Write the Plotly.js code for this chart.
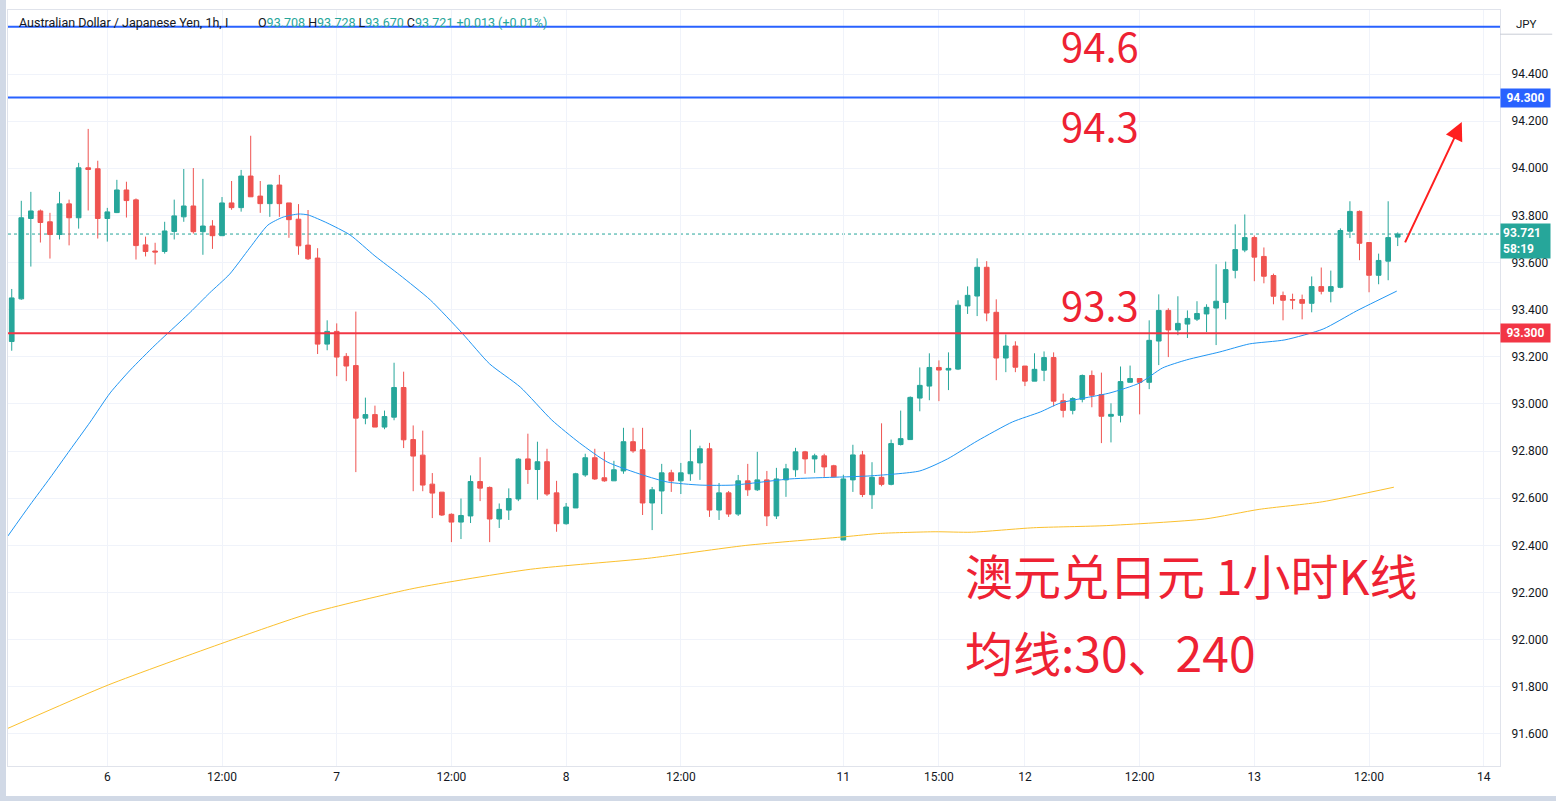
<!DOCTYPE html>
<html>
<head>
<meta charset="utf-8">
<script src="https://cdn.plot.ly/plotly-3.0.1.min.js"></script>
<style>
  html, body { margin: 0; padding: 0; background: #ffffff; overflow: hidden; }
  #wrap { position: relative; width: 1556px; height: 801px; }
  #chart { position: absolute; left: 0; top: 0; width: 1556px; height: 801px; }
  #leftStrip { position: absolute; left: 0; top: 0; width: 6px; height: 801px; background: #d1d9e6; z-index: 5; }
  #bottomStrip { position: absolute; left: 0; top: 796px; width: 1556px; height: 5px; background: #d1d9e6; z-index: 5; }
</style>
</head>
<body>
<div id="wrap">
  <div id="chart"></div>
  <div id="leftStrip"></div>
  <div id="bottomStrip"></div>
</div>
<script>
// ---- Candle data (AUD/JPY, 1h) ----
const openP = [
  93.265, 93.446, 93.787, 93.819, 93.773, 93.719, 93.849, 93.790, 94.002, 93.998,
  93.787, 93.812, 93.908, 93.866, 93.675, 93.649, 93.647, 93.732, 93.794, 93.840,
  93.731, 93.755, 93.714, 93.853, 93.833, 93.967, 93.882, 93.850, 93.929, 93.853,
  93.784, 93.674, 93.619, 93.254, 93.308, 93.202, 93.163, 92.940, 92.955, 92.902,
  92.944, 93.070, 92.849, 92.783, 92.660, 92.626, 92.532, 92.499, 92.525, 92.671,
  92.646, 92.512, 92.550, 92.597, 92.767, 92.722, 92.755, 92.623, 92.492, 92.559,
  92.699, 92.772, 92.687, 92.674, 92.716, 92.840, 92.806, 92.580, 92.631, 92.708,
  92.674, 92.704, 92.750, 92.810, 92.550, 92.623, 92.533, 92.674, 92.636, 92.678,
  92.525, 92.678, 92.721, 92.797, 92.767, 92.780, 92.738, 92.423, 92.678, 92.784,
  92.615, 92.689, 92.659, 92.828, 92.849, 93.025, 93.076, 93.155, 93.144, 93.148,
  93.416, 93.458, 93.580, 93.389, 93.195, 93.246, 93.161, 93.097, 93.143, 93.197,
  93.014, 92.973, 93.020, 93.121, 93.040, 92.948, 92.952, 93.092, 93.108, 93.092,
  93.267, 93.397, 93.314, 93.339, 93.360, 93.382, 93.407, 93.431, 93.567, 93.653,
  93.706, 93.626, 93.545, 93.460, 93.443, 93.443, 93.427, 93.498, 93.478, 93.495,
  93.733, 93.817, 93.685, 93.546, 93.606, 93.708
];
const highP = [
  93.488, 93.862, 93.900, 93.825, 93.811, 93.900, 93.867, 94.023, 94.167, 94.032,
  93.832, 93.951, 93.943, 93.872, 93.710, 93.684, 93.773, 93.867, 93.997, 94.001,
  93.955, 93.780, 93.878, 93.946, 93.993, 94.138, 93.946, 93.929, 93.972, 93.853,
  93.848, 93.823, 93.661, 93.355, 93.342, 93.216, 93.392, 93.027, 92.993, 92.972,
  93.175, 93.137, 92.909, 92.887, 92.707, 92.626, 92.536, 92.599, 92.697, 92.774,
  92.650, 92.578, 92.642, 92.770, 92.874, 92.840, 92.810, 92.674, 92.580, 92.708,
  92.789, 92.810, 92.797, 92.759, 92.899, 92.899, 92.899, 92.648, 92.746, 92.721,
  92.750, 92.891, 92.823, 92.835, 92.665, 92.631, 92.699, 92.746, 92.797, 92.716,
  92.729, 92.746, 92.814, 92.801, 92.789, 92.789, 92.742, 92.700, 92.827, 92.801,
  92.753, 92.918, 92.849, 92.972, 93.032, 93.155, 93.215, 93.185, 93.219, 93.440,
  93.499, 93.618, 93.606, 93.444, 93.295, 93.266, 93.161, 93.215, 93.223, 93.219,
  93.044, 93.029, 93.125, 93.142, 93.133, 93.003, 93.159, 93.163, 93.108, 93.355,
  93.465, 93.406, 93.457, 93.397, 93.436, 93.423, 93.593, 93.604, 93.762, 93.804,
  93.715, 93.664, 93.553, 93.477, 93.468, 93.464, 93.541, 93.579, 93.566, 93.745,
  93.860, 93.821, 93.685, 93.638, 93.860, 93.728
];
const lowP = [
  93.226, 93.442, 93.583, 93.685, 93.617, 93.698, 93.673, 93.744, 93.821, 93.702,
  93.689, 93.810, 93.791, 93.613, 93.626, 93.592, 93.638, 93.698, 93.773, 93.723,
  93.633, 93.658, 93.714, 93.824, 93.816, 93.879, 93.811, 93.794, 93.794, 93.705,
  93.633, 93.611, 93.212, 93.228, 93.118, 93.097, 92.711, 92.914, 92.902, 92.893,
  92.931, 92.813, 92.630, 92.630, 92.516, 92.525, 92.414, 92.427, 92.495, 92.588,
  92.414, 92.474, 92.508, 92.588, 92.661, 92.594, 92.610, 92.458, 92.488, 92.559,
  92.691, 92.678, 92.670, 92.674, 92.704, 92.793, 92.529, 92.465, 92.533, 92.627,
  92.618, 92.674, 92.678, 92.521, 92.508, 92.521, 92.525, 92.610, 92.631, 92.482,
  92.512, 92.606, 92.691, 92.704, 92.708, 92.691, 92.691, 92.423, 92.627, 92.605,
  92.555, 92.651, 92.655, 92.824, 92.849, 92.969, 93.016, 93.012, 93.059, 93.144,
  93.382, 93.373, 93.351, 93.101, 93.135, 93.135, 93.076, 93.097, 93.097, 92.990,
  92.943, 92.956, 93.007, 92.986, 92.834, 92.837, 92.922, 93.092, 92.956, 93.063,
  93.165, 93.199, 93.292, 93.280, 93.352, 93.305, 93.250, 93.359, 93.533, 93.644,
  93.521, 93.512, 93.423, 93.355, 93.402, 93.359, 93.389, 93.465, 93.431, 93.491,
  93.704, 93.610, 93.474, 93.508, 93.525, 93.670
];
const closeP = [
  93.450, 93.790, 93.819, 93.770, 93.719, 93.849, 93.790, 94.002, 93.995, 93.787,
  93.815, 93.908, 93.863, 93.672, 93.647, 93.645, 93.734, 93.798, 93.840, 93.731,
  93.755, 93.714, 93.853, 93.833, 93.967, 93.879, 93.850, 93.929, 93.850, 93.782,
  93.671, 93.616, 93.254, 93.308, 93.199, 93.161, 92.940, 92.955, 92.902, 92.947,
  93.070, 92.848, 92.779, 92.656, 92.622, 92.529, 92.499, 92.527, 92.671, 92.643,
  92.512, 92.553, 92.599, 92.766, 92.722, 92.755, 92.618, 92.492, 92.563, 92.704,
  92.772, 92.682, 92.674, 92.721, 92.840, 92.801, 92.580, 92.636, 92.708, 92.674,
  92.708, 92.755, 92.810, 92.550, 92.623, 92.533, 92.674, 92.636, 92.678, 92.525,
  92.682, 92.725, 92.797, 92.767, 92.780, 92.733, 92.691, 92.682, 92.784, 92.616,
  92.689, 92.659, 92.832, 92.853, 93.028, 93.079, 93.155, 93.144, 93.151, 93.419,
  93.461, 93.580, 93.386, 93.195, 93.246, 93.156, 93.097, 93.147, 93.197, 93.012,
  92.973, 93.023, 93.121, 93.037, 92.948, 92.956, 93.095, 93.108, 93.092, 93.270,
  93.397, 93.314, 93.342, 93.363, 93.384, 93.410, 93.436, 93.570, 93.655, 93.706,
  93.623, 93.542, 93.457, 93.440, 93.441, 93.427, 93.498, 93.478, 93.498, 93.736,
  93.817, 93.682, 93.546, 93.609, 93.706, 93.721
];

// ---- Moving averages (bar position, price) ----
const ma30Bar = [-0.4, 1.9, 4.0, 6.1, 8.2, 10.3, 12.4, 15.0, 17.6, 18.7, 20.7, 22.8, 24.9, 26.8, 28.4, 30.0, 31.0, 33.0, 35.4, 38.0, 40.6, 43.8, 47.2, 50.0, 53.2, 56.5, 59.4, 62.3, 66.0, 68.6, 72.0, 75.5, 81.4, 86.6, 89.8, 95.0, 97.9, 101.0, 104.7, 107.6, 109.7, 114.9, 118.0, 120.4, 122.9, 126.4, 129.5, 133.2, 137.2, 140.7, 144.9];
const ma30Val = [92.440, 92.571, 92.686, 92.805, 92.923, 93.047, 93.144, 93.250, 93.348, 93.390, 93.471, 93.551, 93.662, 93.759, 93.793, 93.806, 93.802, 93.768, 93.717, 93.628, 93.547, 93.441, 93.297, 93.170, 93.072, 92.932, 92.835, 92.754, 92.699, 92.669, 92.656, 92.656, 92.682, 92.690, 92.695, 92.716, 92.767, 92.843, 92.924, 92.966, 93.004, 93.047, 93.089, 93.153, 93.187, 93.221, 93.255, 93.272, 93.318, 93.395, 93.479];
const ma240Bar = [-0.4, 10.1, 22.3, 31.2, 42.1, 54.3, 66.5, 76.8, 87.2, 90.9, 96.6, 100.4, 106.9, 114.5, 124.8, 130.5, 137.1, 144.6];
const ma240Val = [91.624, 91.808, 91.989, 92.112, 92.218, 92.299, 92.345, 92.400, 92.437, 92.451, 92.458, 92.456, 92.475, 92.484, 92.512, 92.553, 92.585, 92.647];

// ---- Axis labels ----
const timeTickBars = [10, 22, 34, 46, 58, 70, 87, 97, 106, 118, 130, 142, 154];
const timeTickText = ['6', '12:00', '7', '12:00', '8', '12:00', '11', '15:00', '12', '12:00', '13', '12:00', '14'];
const priceTicks = [91.6, 91.8, 92.0, 92.2, 92.4, 92.6, 92.8, 93.0, 93.2, 93.4, 93.6, 93.8, 94.0, 94.2, 94.4];

// ---- Levels & annotations ----
const blueLevels = [94.6, 94.3];
const redLevel = 93.3;
const lastPrice = 93.721;
const levelLabels = ['94.6', '94.3', '93.3'];
const titleCN = '澳元兑日元 1小时K线';
const subtitleCN = '均线:30、240';
const headerName = 'Australian Dollar / Japanese Yen, 1h, I';
const headerOHLC = { O: '93.708', H: '93.728', L: '93.670', C: '93.721', chg: '+0.013 (+0.01%)' };
const arrowFrom = [145.7, 93.679];
const arrowTo = [151.7, 94.196];

const barIdx = openP.map((_, i) => i);

const UP = '#26a69a', DOWN = '#ef5350', BLUE = '#2962ff', RED = '#f23645', TXTRED = '#ee2233';

const traces = [
  {
    type: 'scatter', mode: 'lines', x: ma240Bar, y: ma240Val,
    line: { color: '#fbc02d', width: 1, shape: 'spline', smoothing: 0.6 }, hoverinfo: 'skip'
  },
  {
    type: 'scatter', mode: 'lines', x: ma30Bar, y: ma30Val,
    line: { color: '#2196f3', width: 1, shape: 'spline', smoothing: 0.6 }, hoverinfo: 'skip'
  },
  {
    type: 'candlestick', x: barIdx, open: openP, high: highP, low: lowP, close: closeP,
    increasing: { line: { color: UP, width: 1 }, fillcolor: UP },
    decreasing: { line: { color: DOWN, width: 1 }, fillcolor: DOWN },
    whiskerwidth: 0
  }
];

const shapes = [];
blueLevels.forEach(v => shapes.push({
  type: 'line', xref: 'paper', x0: 0, x1: 1, yref: 'y', y0: v, y1: v,
  line: { color: BLUE, width: 2 }, layer: 'above'
}));
shapes.push({
  type: 'line', xref: 'paper', x0: 0, x1: 1, yref: 'y', y0: redLevel, y1: redLevel,
  line: { color: RED, width: 2 }, layer: 'above'
});
shapes.push({
  type: 'line', xref: 'paper', x0: 0, x1: 1, yref: 'y', y0: lastPrice, y1: lastPrice,
  line: { color: UP, width: 1, dash: 'dot' }, layer: 'below'
});
// JPY header separator in price-axis area
shapes.push({
  type: 'line', xref: 'paper', x0: 1.0, x1: 1.035, yref: 'paper', y0: 0.968, y1: 0.968,
  line: { color: '#c8ccd6', width: 1 }
});

const sp = (c, t) => '<span style="color:' + c + '">' + t + '</span>';
const dark = '#131722';

const annotations = [
  // header
  {
    xref: 'x', yref: 'y', x: 0.5, y: 94.617, xanchor: 'left', yanchor: 'middle', showarrow: false,
    text: headerName, font: { family: 'Roboto, sans-serif', size: 12.5, color: dark }
  },
  {
    xref: 'x', yref: 'y', x: 25.6, y: 94.617, xanchor: 'left', yanchor: 'middle', showarrow: false,
    text: 'O' + sp(UP, headerOHLC.O) + ' H' + sp(UP, headerOHLC.H) + ' L' + sp(UP, headerOHLC.L) +
      ' C' + sp(UP, headerOHLC.C) + ' ' + sp(UP, headerOHLC.chg),
    font: { family: 'Roboto, sans-serif', size: 12.5, color: dark }
  },
  // big level labels
  {
    xref: 'x', yref: 'y', x: 113.8, y: 94.522, showarrow: false, text: levelLabels[0],
    font: { family: 'Noto Sans CJK SC, sans-serif', size: 40, color: TXTRED }
  },
  {
    xref: 'x', yref: 'y', x: 113.8, y: 94.183, showarrow: false, text: levelLabels[1],
    font: { family: 'Noto Sans CJK SC, sans-serif', size: 40, color: TXTRED }
  },
  {
    xref: 'x', yref: 'y', x: 113.8, y: 93.423, showarrow: false, text: levelLabels[2],
    font: { family: 'Noto Sans CJK SC, sans-serif', size: 40, color: TXTRED }
  },
  // Chinese captions
  {
    xref: 'x', yref: 'y', x: 99.5, y: 92.279, xanchor: 'left', showarrow: false, text: titleCN,
    font: { family: 'Noto Sans CJK SC, sans-serif', size: 48, color: TXTRED }
  },
  {
    xref: 'x', yref: 'y', x: 99.5, y: 91.952, xanchor: 'left', showarrow: false, text: subtitleCN,
    font: { family: 'Noto Sans CJK SC, sans-serif', size: 48, color: TXTRED }
  },
  // arrow
  {
    xref: 'x', yref: 'y', axref: 'x', ayref: 'y', x: arrowTo[0], y: arrowTo[1],
    ax: arrowFrom[0], ay: arrowFrom[1], text: '', showarrow: true,
    arrowhead: 2, arrowsize: 1.8, arrowwidth: 2, arrowcolor: '#ff1f1f', standoff: 0, startstandoff: 0
  },
  // price-axis labels
  {
    xref: 'paper', yref: 'y', x: 1, y: 94.3, xanchor: 'left', yanchor: 'middle', showarrow: false,
    text: '<b>94.300</b>', bgcolor: BLUE, borderpad: 2, width: 45,
    font: { family: 'Roboto, sans-serif', size: 12, color: '#ffffff' }
  },
  {
    xref: 'paper', yref: 'y', x: 1, y: 93.690, xanchor: 'left', yanchor: 'middle', showarrow: false,
    text: '<b>93.721</b><br><b>58:19</b>', bgcolor: UP, borderpad: 2, width: 45, align: 'left',
    font: { family: 'Roboto, sans-serif', size: 12, color: '#ffffff' }
  },
  {
    xref: 'paper', yref: 'y', x: 1, y: 93.3, xanchor: 'left', yanchor: 'middle', showarrow: false,
    text: '<b>93.300</b>', bgcolor: RED, borderpad: 2, width: 45,
    font: { family: 'Roboto, sans-serif', size: 12, color: '#ffffff' }
  },
  {
    xref: 'paper', yref: 'paper', x: 1.0175, y: 0.982, xanchor: 'center', yanchor: 'middle', showarrow: false,
    text: 'JPY', font: { family: 'Roboto, sans-serif', size: 11.5, color: dark }
  }
];

const layout = {
  width: 1556, height: 801,
  margin: { l: 8, r: 56, t: 10, b: 35, pad: 0 },
  paper_bgcolor: '#ffffff', plot_bgcolor: '#ffffff',
  showlegend: false,
  xaxis: {
    type: 'linear', range: [-0.39, 155.7],
    tickmode: 'array', tickvals: timeTickBars, ticktext: timeTickText,
    showgrid: true, gridcolor: '#f0f3fa', gridwidth: 1, zeroline: false,
    showline: true, linecolor: '#e0e3eb', linewidth: 1, mirror: true,
    ticks: '', tickfont: { family: 'Roboto, sans-serif', size: 12, color: dark },
    rangeslider: { visible: false }, fixedrange: true
  },
  yaxis: {
    side: 'right', range: [91.4642, 94.6715],
    tickmode: 'array', tickvals: priceTicks, ticktext: priceTicks.map(v => v.toFixed(3)),
    showgrid: true, gridcolor: '#f0f3fa', gridwidth: 1, zeroline: false,
    showline: true, linecolor: '#e0e3eb', linewidth: 1, mirror: true,
    ticks: 'outside', ticklen: 8, tickcolor: 'rgba(0,0,0,0)',
    tickfont: { family: 'Roboto, sans-serif', size: 12, color: dark }, fixedrange: true
  },
  shapes: shapes,
  annotations: annotations,
  boxgap: 0.3
};

Plotly.newPlot('chart', traces, layout, { staticPlot: true, displayModeBar: false });
</script>
</body>
</html>
